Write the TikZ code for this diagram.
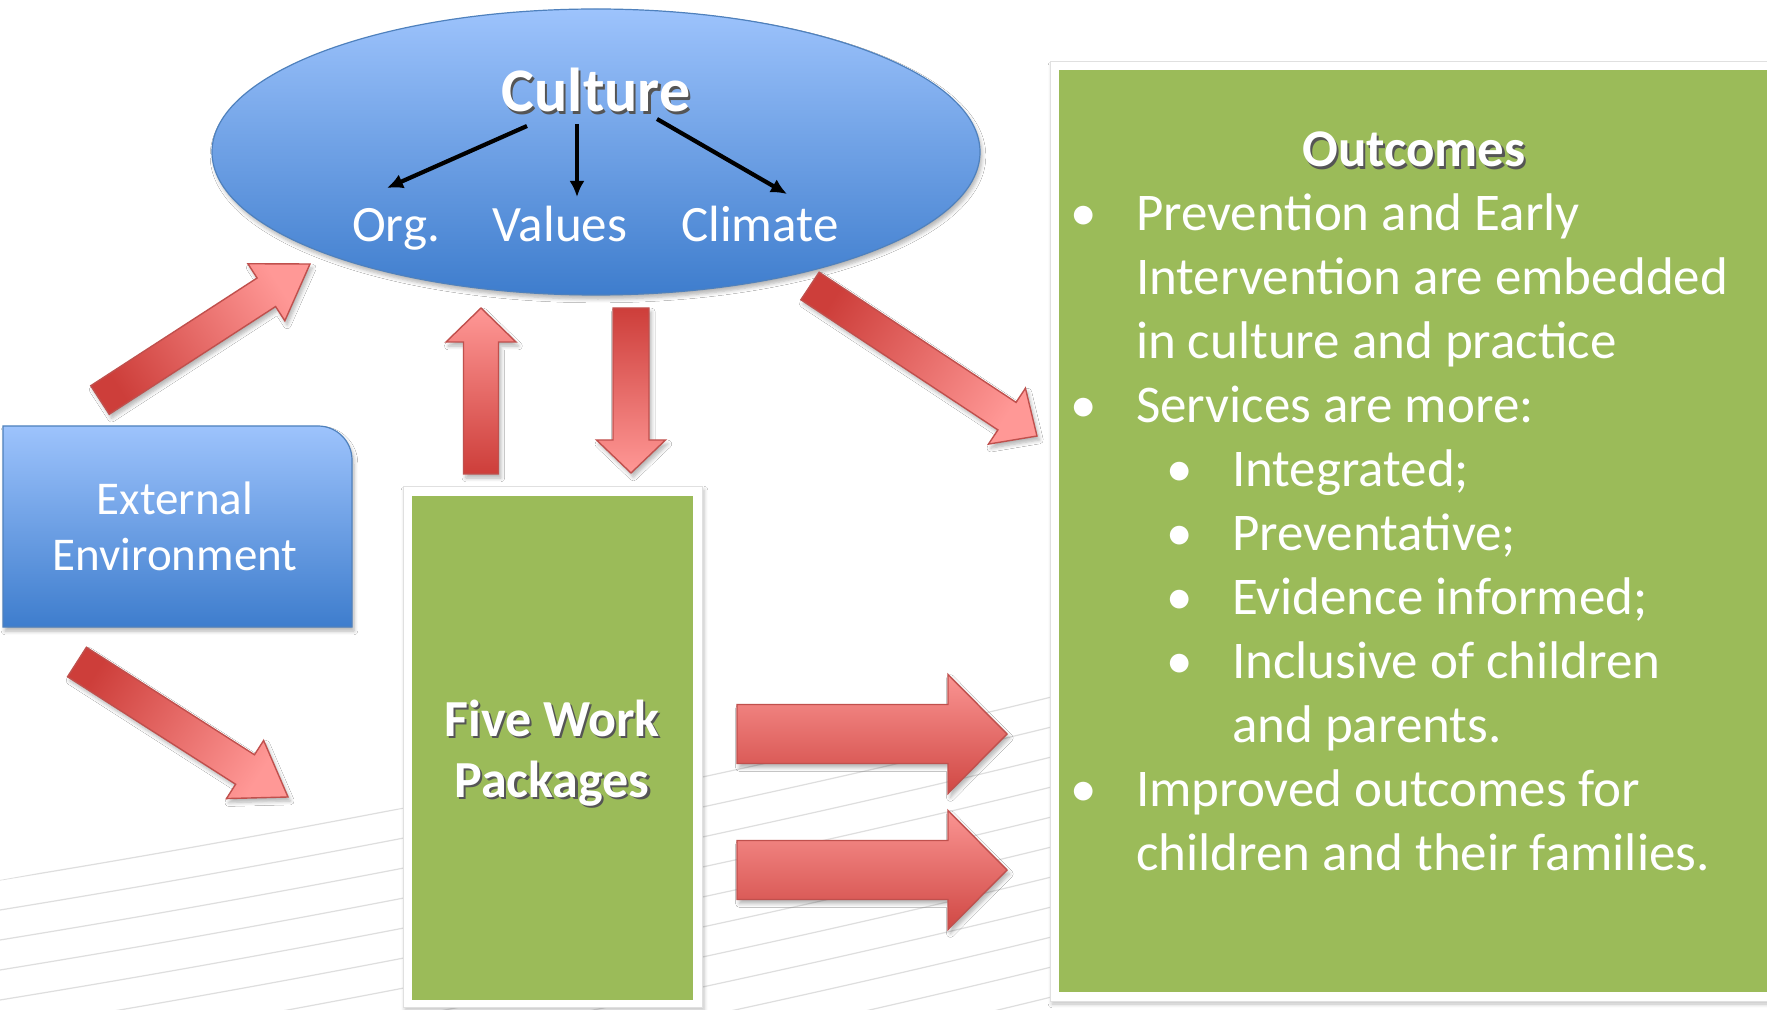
\documentclass[tikz,border=0pt]{standalone}
\usepackage{fontspec}
\setmainfont{Carlito}
\usetikzlibrary{shapes.geometric,calc,arrows.meta,shadows.blur}
\definecolor{ellTop}{RGB}{157,195,252}
\definecolor{ellBot}{RGB}{62,125,205}
\definecolor{ellEdge}{RGB}{79,129,189}
\definecolor{grn}{RGB}{155,187,89}
\definecolor{arrDark}{RGB}{205,62,58}
\definecolor{arrLight}{RGB}{255,152,150}
\definecolor{arrHTop}{RGB}{250,148,146}
\definecolor{arrHBot}{RGB}{208,72,68}
\definecolor{arrEdge}{RGB}{192,80,77}
\definecolor{txtShadow}{RGB}{85,85,85}
\newcommand\shd[1]{\rlap{\kern1.1pt\raisebox{-1.1pt}{\textcolor{txtShadow}{#1}}}#1}
\newcommand\blockarrow[7]{%
  \coordinate (#1b) at ($(#4)!#7!(#3)$);
  \path[#2] ($(#3)!#5!90:(#4)$) -- ($(#1b)!#5!90:(#4)$) -- ($(#1b)!#6!90:(#4)$) -- (#4)
    -- ($(#1b)!#6!-90:(#4)$) -- ($(#1b)!#5!-90:(#4)$) -- ($(#3)!#5!-90:(#4)$) -- cycle;
}
\tikzset{
  arrowbase/.style={draw=arrEdge, line width=0.7pt, line join=miter,
    blur shadow={shadow xshift=1.2pt, shadow yshift=-2pt, shadow blur steps=6, shadow opacity=30}},
  gradarrow/.style={arrowbase, top color=arrLight, bottom color=arrDark, shading angle=#1},
  hgradarrow/.style={arrowbase, top color=arrHTop, bottom color=arrHBot},
  whiteframe/.style={rectangle, fill=white, draw=black!12, line width=0.5pt, inner sep=0pt, outer sep=0pt,
    blur shadow={shadow xshift=1pt, shadow yshift=-1.5pt, shadow blur steps=5, shadow opacity=25}},
  greenbox/.style={rectangle, fill=grn, inner sep=0pt, outer sep=0pt},
  wtext/.style={text=white, inner sep=0pt, outer sep=0pt},
  blkarrow/.style={-{Latex[length=8pt,width=7.5pt]}, line width=2.1pt, black},
  bgline/.style={black!13, line width=0.6pt}
}
\begin{document}
\begin{tikzpicture}[x=0.5pt,y=-0.5pt]
\useasboundingbox (0,0) rectangle (1767,1010);
\fill[white] (0,0) rectangle (1767,1010);

% faint background lines
\begin{scope}
\clip (0,880) -- (1060,690) -- (1060,1010) -- (0,1010) -- cycle;
\foreach \k in {0,...,14}{
  \draw[bgline] (0,{850+30*\k}) .. controls (400,{785+30*\k}) and (800,{700+30*\k}) .. (1100,{625+30*\k});
}
\end{scope}

% External Environment
\path[draw=ellEdge, line width=0.6pt, top color=ellTop, bottom color=ellBot,
  blur shadow={shadow xshift=1pt, shadow yshift=-2pt, shadow blur steps=5, shadow opacity=30}]
  (3,627) -- (3,426) -- (318,426) arc[start angle=90, end angle=0, radius=17pt] -- (352,627) -- cycle;
\node[wtext, anchor=base, font=\fontsize{23.5}{28}\selectfont] (ext) at (175,515)
  {\begin{tabular}[t]{@{}c@{}}External\\Environment\end{tabular}};

% Five Work Packages
\node[whiteframe, minimum width=149.5pt, minimum height=260pt] (fiveframe) at (552.5,747) {};
\node[greenbox, minimum width=140.5pt, minimum height=252pt] (five) at (552.5,748) {};
\node[wtext, anchor=base, font=\fontsize{26}{30.5}\selectfont\bfseries] (fivetxt) at (552,736)
  {\begin{tabular}[t]{@{}c@{}}\shd{Five Work}\\\shd{Packages}\end{tabular}};

% Outcomes
\node[whiteframe, minimum width=370pt, minimum height=469.5pt] (outframe) at (1420,531.5) {};
\node[greenbox, minimum width=360.5pt, minimum height=461pt] (outcomes) at (1419.5,531) {};
\node[wtext, anchor=base, font=\fontsize{26.5}{32}\selectfont\bfseries] (outtitle) at (1414,167) {\shd{Outcomes}};
\node[wtext, anchor=base west, font=\fontsize{26.5}{32}\selectfont] (outlist) at (1084,231)
  {\begin{tabular}[t]{@{}l@{}}
  \makebox[0pt]{\textbullet}\hspace{26pt}Prevention and Early\\
  \hspace{26pt}Intervention are embedded\\
  \hspace{26pt}in culture and practice\\
  \makebox[0pt]{\textbullet}\hspace{26pt}Services are more:\\
  \hspace{48pt}\makebox[0pt]{\textbullet}\hspace{26pt}Integrated;\\
  \hspace{48pt}\makebox[0pt]{\textbullet}\hspace{26pt}Preventative;\\
  \hspace{48pt}\makebox[0pt]{\textbullet}\hspace{26pt}Evidence informed;\\
  \hspace{48pt}\makebox[0pt]{\textbullet}\hspace{26pt}Inclusive of children\\
  \hspace{74pt}and parents.\\
  \makebox[0pt]{\textbullet}\hspace{26pt}Improved outcomes for\\
  \hspace{26pt}children and their families.
  \end{tabular}};

% Culture ellipse
\node[ellipse, draw=ellEdge, line width=0.6pt, top color=ellTop, bottom color=ellBot,
  minimum width=384pt, minimum height=143pt, inner sep=0pt,
  blur shadow={shadow xshift=1pt, shadow yshift=-2pt, shadow blur steps=5, shadow opacity=30}] (culture) at (596,152) {};
\node[wtext, anchor=base, font=\fontsize{31}{37}\selectfont\bfseries] (ctitle) at (596,112) {\shd{Culture}};
\node[wtext, anchor=base, font=\fontsize{25.5}{30}\selectfont] (org) at (396,242) {Org.};
\node[wtext, anchor=base, font=\fontsize{25.5}{30}\selectfont] (values) at (560,242) {Values};
\node[wtext, anchor=base, font=\fontsize{25.5}{30}\selectfont] (climate) at (760,242) {Climate};
\draw[blkarrow] ($(ctitle.base)+(-69,14)$) -- ($(org.base)+(-9,-54)$);
\draw[blkarrow] ($(ctitle.base)+(-19,12)$) -- ($(values.base)+(17,-45)$);
\draw[blkarrow] ($(ctitle.base)+(61,7)$) -- ($(climate.base)+(27,-48)$);

% block arrows
\coordinate (a1t) at (100,400);  \coordinate (a1h) at (310,264);
\coordinate (a2t) at (77,662);   \coordinate (a2h) at (288,797);
\coordinate (a3t) at (810,286);  \coordinate (a3h) at (1037,436);
\coordinate (upt) at (481,474);  \coordinate (uph) at (481,308);
\coordinate (dnt) at (631,308);  \coordinate (dnh) at (631,473);
\coordinate (r1t) at (737,734);  \coordinate (r1h) at (1007,734);
\coordinate (r2t) at (737,870);  \coordinate (r2h) at (1007,870);
\blockarrow{a1}{gradarrow=-57}{a1t}{a1h}{8.5pt}{17pt}{26pt}
\blockarrow{a2}{gradarrow=-122.6}{a2t}{a2h}{8.75pt}{17.25pt}{25.5pt}
\blockarrow{a3}{gradarrow=-123.5}{a3t}{a3h}{8.25pt}{16.75pt}{18pt}
\blockarrow{up}{gradarrow=0}{upt}{uph}{8.75pt}{17.5pt}{17pt}
\blockarrow{dn}{gradarrow=180}{dnt}{dnh}{9pt}{17.25pt}{16.5pt}
\blockarrow{r1}{hgradarrow}{r1t}{r1h}{14.75pt}{29.75pt}{29.5pt}
\blockarrow{r2}{hgradarrow}{r2t}{r2h}{14.75pt}{29.75pt}{29.5pt}
\end{tikzpicture}
\end{document}
